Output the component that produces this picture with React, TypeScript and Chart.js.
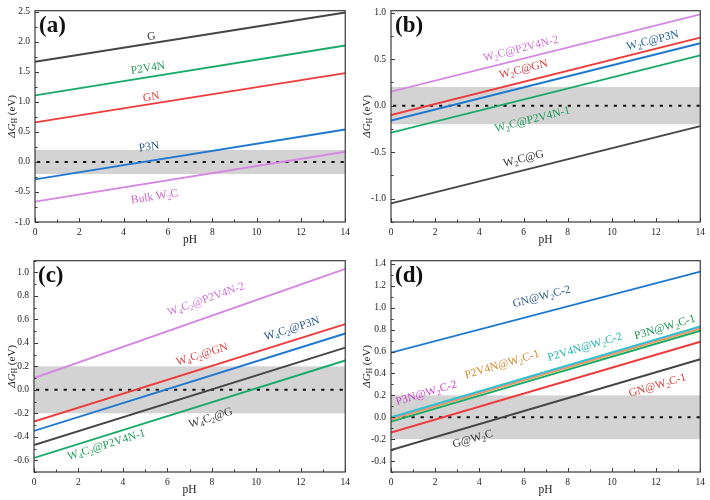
import React, { useEffect, useRef } from "react";
import { Chart, registerables } from "chart.js";

Chart.register(...registerables);

const SERIF = '"Liberation Serif", "Times New Roman", serif';

// pH range (x values of each straight line)
const PH = [0, 14];
const X_TICKS = [0, 2, 4, 6, 8, 10, 12, 14];

// ---- Panel (a)
const A_NAMES = ["G", "P2V4N", "GN", "P3N", "Bulk W_2C"];
const A_START = [1.67, 1.11, 0.66, -0.29, -0.66];
const A_END = [2.49, 1.94, 1.48, 0.54, 0.17];
const A_YTICKS = [-1.0, -0.5, 0.0, 0.5, 1.0, 1.5, 2.0, 2.5];

// ---- Panel (b)
const B_NAMES = ["W_2C@P2V4N-2", "W_2C@GN", "W_2C@P3N", "W_2C@P2V4N-1", "W_2C@G"];
const B_START = [0.15, -0.1, -0.16, -0.29, -1.05];
const B_END = [0.98, 0.73, 0.67, 0.54, -0.22];
const B_YTICKS = [-1.0, -0.5, 0.0, 0.5, 1.0];

// ---- Panel (c)
const C_NAMES = ["W_4C_2@P2V4N-2", "W_4C_2@GN", "W_4C_2@P3N", "W_4C_2@G", "W_4C_2@P2V4N-1"];
const C_START = [0.1, -0.27, -0.35, -0.47, -0.58];
const C_END = [1.03, 0.56, 0.48, 0.36, 0.25];
const C_YTICKS = [-0.6, -0.4, -0.2, 0.0, 0.2, 0.4, 0.6, 0.8, 1.0];

// ---- Panel (d)
const D_NAMES = ["GN@W_2C-2", "P2V4N@W_2C-2", "P3N@W_2C-2", "P2V4N@W_2C-1", "P3N@W_2C-1", "GN@W_2C-1", "G@W_2C"];
const D_START = [0.59, 0.0, -0.005, -0.02, -0.04, -0.14, -0.3];
const D_END = [1.33, 0.83, 0.825, 0.81, 0.79, 0.69, 0.53];
const D_YTICKS = [-0.4, -0.2, 0.0, 0.2, 0.4, 0.6, 0.8, 1.0, 1.2, 1.4];

// optimal region and reference line
const BAND = [-0.2, 0.2];
const ZERO = 0;

type Panel = {
  tag: string;
  names: string[];
  start: number[];
  end: number[];
  yTicks: number[];
  colors: string[];
  labelColors: string[];
  labelAt: [number, number][];
  yMin: number;
  yMax: number;
  pad: { left: number; right: number; top: number; bottom: number };
};

const BLACK = "#454545";
const GREEN = "#1aaa6a";
const RED = "#ee3b3b";
const BLUE = "#1f78d0";
const VIOLET = "#d488e2";
const CYAN = "#2ac8c8";
const ORANGE = "#e2a24e";
const MAGENTA = "#e070e0";

const PANELS: Panel[] = [
  {
    tag: "(a)",
    names: A_NAMES,
    start: A_START,
    end: A_END,
    yTicks: A_YTICKS,
    colors: [BLACK, GREEN, RED, BLUE, VIOLET],
    labelColors: ["#333333", "#1e9a5c", "#e03a3a", "#1f4f8a", "#d060c8"],
    labelAt: [[5.25, 2.09], [5.1, 1.56], [5.25, 1.08], [5.15, 0.25], [5.4, -0.58]],
    yMin: -1.0,
    yMax: 2.52,
    pad: { left: 35, right: 8, top: 6, bottom: 28 },
  },
  {
    tag: "(b)",
    names: B_NAMES,
    start: B_START,
    end: B_END,
    yTicks: B_YTICKS,
    colors: [VIOLET, RED, BLUE, GREEN, BLACK],
    labelColors: ["#d070d8", "#e03a3a", "#1f5a9a", "#1e9a5c", "#333333"],
    labelAt: [[5.88, 0.61], [6.0, 0.39], [11.85, 0.7], [6.4, -0.15], [6.0, -0.57]],
    yMin: -1.25,
    yMax: 1.02,
    pad: { left: 36, right: 7, top: 4, bottom: 28 },
  },
  {
    tag: "(c)",
    names: C_NAMES,
    start: C_START,
    end: C_END,
    yTicks: C_YTICKS,
    colors: [VIOLET, RED, BLUE, BLACK, GREEN],
    labelColors: ["#d070d8", "#e03a3a", "#1f4f8a", "#333333", "#1e9a5c"],
    labelAt: [[7.74, 0.77], [7.56, 0.3], [11.6, 0.52], [7.95, -0.24], [3.26, -0.47]],
    yMin: -0.7,
    yMax: 1.1,
    pad: { left: 34, right: 8, top: 4, bottom: 28 },
  },
  {
    tag: "(d)",
    names: D_NAMES,
    start: D_START,
    end: D_END,
    yTicks: D_YTICKS,
    colors: [BLUE, CYAN, MAGENTA, ORANGE, GREEN, RED, BLACK],
    labelColors: ["#2a5a8a", "#20b8b0", "#d040d0", "#d08a30", "#1a9050", "#e03a3a", "#333333"],
    labelAt: [[6.82, 1.1], [8.78, 0.64], [1.6, 0.22], [5.03, 0.48], [12.4, 0.82], [12.07, 0.29], [3.7, -0.2]],
    yMin: -0.5,
    yMax: 1.43,
    pad: { left: 36, right: 7, top: 2, bottom: 28 },
  },
];

function parseRich(s: string) {
  const segs: { t: string; sub: boolean; it: boolean }[] = [];
  let it = false;
  let buf = "";
  const flush = () => {
    if (buf) {
      segs.push({ t: buf, sub: false, it });
      buf = "";
    }
  };
  let i = 0;
  while (i < s.length) {
    const c = s[i];
    if (c === "_") {
      flush();
      segs.push({ t: s[i + 1], sub: true, it: false });
      i += 2;
      continue;
    }
    if (c === "*") {
      flush();
      it = !it;
      i++;
      continue;
    }
    buf += c;
    i++;
  }
  flush();
  return segs;
}

function drawRich(
  ctx: CanvasRenderingContext2D,
  s: string,
  x: number,
  y: number,
  angle: number,
  color: string,
  size: number
) {
  const segs = parseRich(s);
  const fontFor = (sg: { sub: boolean; it: boolean }) =>
    `${sg.it ? "italic " : ""}${sg.sub ? size * 0.68 : size}px ${SERIF}`;
  let w = 0;
  for (const sg of segs) {
    ctx.font = fontFor(sg);
    w += ctx.measureText(sg.t).width;
  }
  ctx.save();
  ctx.translate(x, y);
  ctx.rotate(angle);
  ctx.fillStyle = color;
  ctx.textBaseline = "middle";
  ctx.textAlign = "left";
  let cx = -w / 2;
  for (const sg of segs) {
    ctx.font = fontFor(sg);
    ctx.fillText(sg.t, cx, sg.sub ? size * 0.3 : 0);
    cx += ctx.measureText(sg.t).width;
  }
  ctx.restore();
}

function makePlugin(p: Panel) {
  return {
    id: "decor" + p.tag.replace(/[()]/g, ""),
    beforeDatasetsDraw(chart: any) {
      const { ctx, chartArea: a, scales } = chart;
      const ys = scales.y;
      ctx.save();
      const yTop = ys.getPixelForValue(BAND[1]);
      const yBot = ys.getPixelForValue(BAND[0]);
      ctx.fillStyle = "#d3d3d3";
      ctx.fillRect(a.left, yTop, a.right - a.left, yBot - yTop);
      const y0 = ys.getPixelForValue(ZERO);
      ctx.strokeStyle = "#111111";
      ctx.lineWidth = 2;
      ctx.setLineDash([3.2, 6]);
      ctx.beginPath();
      ctx.moveTo(a.left + 2, y0);
      ctx.lineTo(a.right, y0);
      ctx.stroke();
      ctx.restore();
    },
    afterDraw(chart: any) {
      const { ctx, chartArea: a, scales } = chart;
      const xs = scales.x;
      const ys = scales.y;
      ctx.save();
      // frame
      ctx.strokeStyle = "#3a3a3a";
      ctx.lineWidth = 1.2;
      ctx.strokeRect(a.left, a.top, a.right - a.left, a.bottom - a.top);
      // inward major + minor ticks
      ctx.lineWidth = 1;
      ctx.beginPath();
      for (let k = 0; k < X_TICKS.length; k++) {
        const v = X_TICKS[k];
        const px = Math.round(xs.getPixelForValue(v)) + 0.5;
        ctx.moveTo(px, a.bottom);
        ctx.lineTo(px, a.bottom - 4);
        if (k < X_TICKS.length - 1) {
          const m = Math.round(xs.getPixelForValue((v + X_TICKS[k + 1]) / 2)) + 0.5;
          ctx.moveTo(m, a.bottom);
          ctx.lineTo(m, a.bottom - 2.5);
        }
      }
      const yt = p.yTicks;
      const step = yt[1] - yt[0];
      const minors: number[] = [];
      for (let k = 0; k < yt.length; k++) {
        minors.push(yt[k] + step / 2);
        if (k === 0) minors.push(yt[0] - step / 2);
      }
      for (const v of yt) {
        const py = Math.round(ys.getPixelForValue(v)) + 0.5;
        ctx.moveTo(a.left, py);
        ctx.lineTo(a.left + 4, py);
      }
      for (const v of minors) {
        if (v < p.yMin - 1e-9 || v > p.yMax + 1e-9) continue;
        const py = Math.round(ys.getPixelForValue(v)) + 0.5;
        ctx.moveTo(a.left, py);
        ctx.lineTo(a.left + 2.5, py);
      }
      ctx.stroke();

      // line labels
      p.names.forEach((name, i) => {
        const x0 = xs.getPixelForValue(PH[0]);
        const x1 = xs.getPixelForValue(PH[1]);
        const y0 = ys.getPixelForValue(p.start[i]);
        const y1 = ys.getPixelForValue(p.end[i]);
        const ang = Math.atan2(y1 - y0, x1 - x0);
        const [lx, ly] = p.labelAt[i];
        drawRich(ctx, name, xs.getPixelForValue(lx), ys.getPixelForValue(ly), ang, p.labelColors[i], 11.5);
      });

      // panel tag
      ctx.fillStyle = "#111111";
      ctx.font = `bold 23px ${SERIF}`;
      ctx.textAlign = "left";
      ctx.textBaseline = "middle";
      ctx.fillText(p.tag, a.left + 4, a.top + 15);

      // axis titles
      drawRich(ctx, "pH", (a.left + a.right) / 2, a.bottom + 18, 0, "#222222", 11.5);
      drawRich(ctx, "*ΔG*_H (eV)", 12, (a.top + a.bottom) / 2, -Math.PI / 2, "#222222", 11);
      ctx.restore();
    },
  };
}

function PanelChart({ p }: { p: Panel }) {
  const ref = useRef<HTMLCanvasElement | null>(null);
  useEffect(() => {
    if (!ref.current) return;
    const datasets = p.names.map((name, i) => ({
      label: name,
      data: PH.map((x, j) => ({ x, y: j === 0 ? p.start[i] : p.end[i] })),
      borderColor: p.colors[i],
      backgroundColor: p.colors[i],
      borderWidth: 1.9,
      pointRadius: 0,
      fill: false,
      tension: 0,
    }));
    const chart = new Chart(ref.current, {
      type: "line",
      data: { datasets },
      options: {
        animation: false,
        responsive: false,
        events: [],
        layout: { padding: { left: 0, right: p.pad.right, top: p.pad.top, bottom: 0 } },
        plugins: { legend: { display: false }, tooltip: { enabled: false } },
        scales: {
          x: {
            type: "linear",
            min: 0,
            max: 14,
            grid: { display: false, drawTicks: false, tickLength: 0 },
            border: { display: false },
            afterBuildTicks: (s: any) => {
              s.ticks = X_TICKS.map((v) => ({ value: v }));
            },
            ticks: {
              padding: 5,
              color: "#222222",
              font: { family: SERIF, size: 9.5 },
              maxRotation: 0,
              autoSkip: false,
              callback: (v: any) => String(v),
            },
            afterFit: (s: any) => {
              s.height = p.pad.bottom;
            },
          },
          y: {
            type: "linear",
            min: p.yMin,
            max: p.yMax,
            grid: { display: false, drawTicks: false, tickLength: 0 },
            border: { display: false },
            afterBuildTicks: (s: any) => {
              s.ticks = p.yTicks.map((v) => ({ value: v }));
            },
            ticks: {
              padding: 5,
              color: "#222222",
              font: { family: SERIF, size: 9.5 },
              autoSkip: false,
              callback: (v: any) => Number(v).toFixed(1),
            },
            afterFit: (s: any) => {
              s.width = p.pad.left;
            },
          },
        },
      },
      plugins: [makePlugin(p)],
    } as any);
    return () => chart.destroy();
  }, [p]);
  return <canvas ref={ref} width={355} height={250} style={{ display: "block", width: 355, height: 250 }} />;
}

export default function App() {
  return (
    <div
      style={{
        position: "absolute",
        left: 0,
        top: 0,
        width: 710,
        height: 500,
        background: "#ffffff",
        display: "grid",
        gridTemplateColumns: "355px 355px",
        gridTemplateRows: "250px 250px",
      }}
    >
      {PANELS.map((p) => (
        <PanelChart key={p.tag} p={p} />
      ))}
    </div>
  );
}
